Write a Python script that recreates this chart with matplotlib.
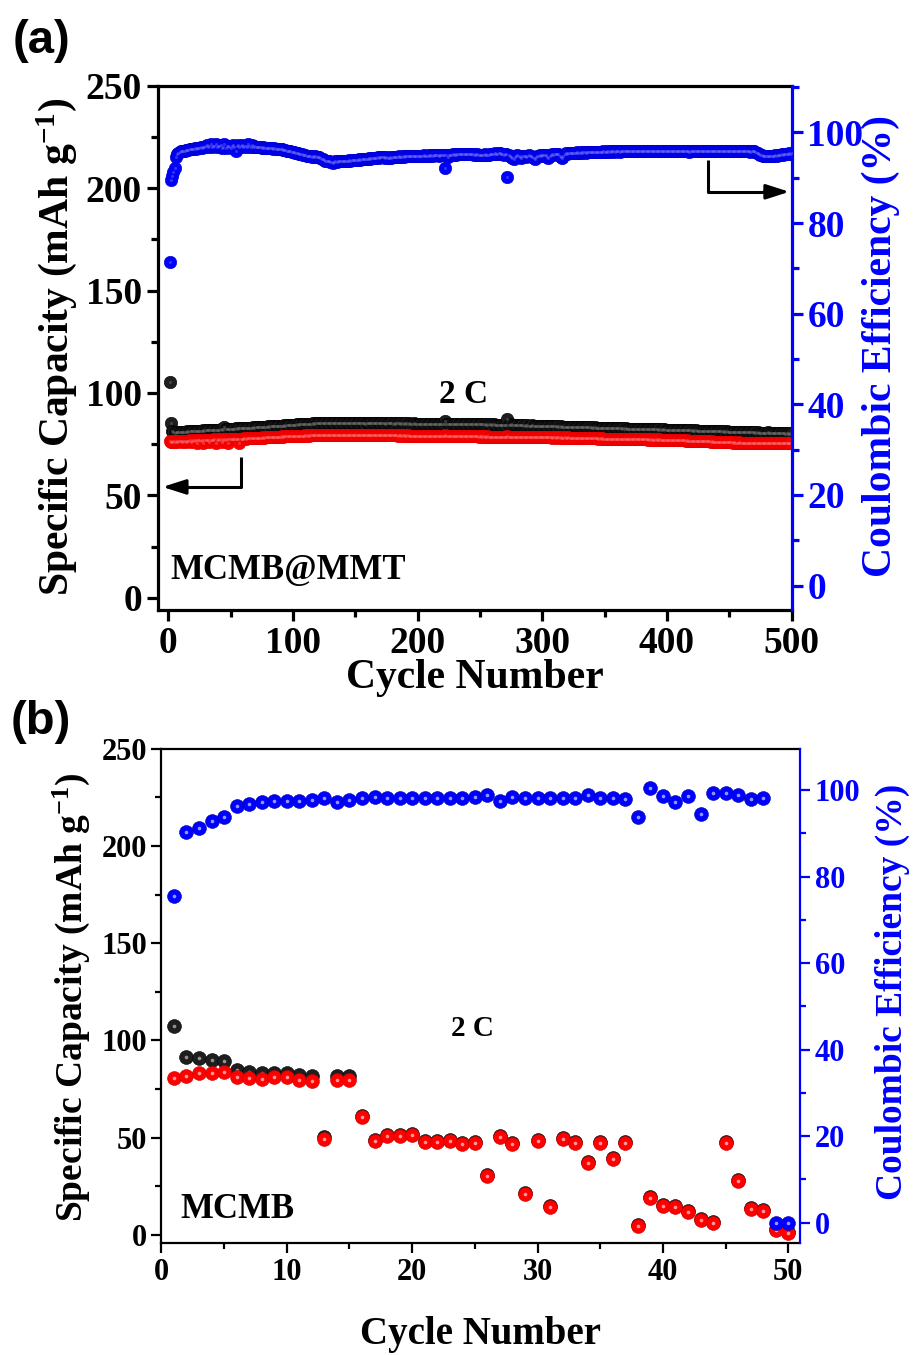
import matplotlib
matplotlib.use('Agg')
import matplotlib.pyplot as plt
from matplotlib.ticker import MultipleLocator

plt.rcParams['font.family'] = ['Liberation Serif', 'DejaVu Serif']
plt.rcParams['font.weight'] = 'bold'
plt.rcParams['mathtext.default'] = 'regular'

# ---------------- panel (a): MCMB@MMT, 500 cycles at 2 C ----------------
cycles_a = list(range(1, 501))

charge_a = [
    105.4, 85.3, 81.6, 80.9, 80.6, 80.7, 80.8, 80.9, 80.8, 81.0,
    80.9, 81.0, 81.1, 81.0, 81.2, 81.1, 81.2, 81.3, 81.2, 81.3,
    81.4, 81.3, 81.5, 81.4, 81.5, 81.6, 81.5, 81.7, 81.6, 81.7,
    81.8, 81.7, 81.8, 81.9, 81.8, 82.0, 81.9, 82.0, 82.1, 82.0,
    82.1, 82.2, 82.1, 82.3, 83.4, 82.3, 82.4, 82.3, 82.5, 82.4,
    82.5, 82.6, 82.5, 82.7, 82.6, 82.7, 82.8, 82.7, 82.8, 82.9,
    82.8, 82.9, 83.0, 82.9, 83.1, 83.0, 83.1, 83.2, 83.1, 83.3,
    83.2, 83.3, 83.4, 83.3, 83.5, 83.4, 83.5, 83.6, 83.5, 83.7,
    83.6, 83.7, 83.8, 83.7, 83.9, 83.8, 84.0, 83.9, 84.0, 84.1,
    84.0, 84.1, 84.2, 84.1, 84.3, 84.2, 84.3, 84.4, 84.3, 84.5,
    84.4, 84.5, 84.6, 84.5, 84.7, 84.6, 84.7, 84.8, 84.7, 84.9,
    84.8, 84.9, 85.0, 84.9, 85.0, 85.1, 85.0, 85.1, 85.2, 85.1,
    85.2, 85.1, 85.2, 85.3, 85.2, 85.3, 85.2, 85.4, 85.3, 85.2,
    85.3, 85.2, 85.3, 85.4, 85.3, 85.2, 85.3, 85.2, 85.3, 85.2,
    85.1, 85.2, 85.1, 85.2, 85.3, 85.2, 85.1, 85.2, 85.1, 85.2,
    85.1, 85.2, 85.3, 85.2, 85.1, 85.2, 85.1, 85.0, 85.1, 85.2,
    85.1, 85.2, 85.1, 85.2, 85.3, 85.2, 85.1, 85.2, 85.1, 85.2,
    85.1, 85.2, 85.1, 85.0, 85.1, 85.2, 85.1, 85.2, 85.1, 85.0,
    85.1, 85.0, 85.1, 85.2, 85.1, 85.0, 85.1, 85.0, 85.1, 85.0,
    85.1, 85.0, 85.1, 85.0, 84.9, 85.0, 85.1, 85.0, 84.9, 85.0,
    84.9, 85.0, 84.9, 85.0, 84.9, 84.8, 84.9, 85.0, 84.9, 84.8,
    84.9, 84.8, 84.9, 84.8, 84.9, 84.8, 84.9, 84.8, 84.9, 84.8,
    84.9, 86.4, 84.8, 84.9, 84.8, 84.9, 84.8, 84.9, 84.8, 84.7,
    84.8, 84.7, 84.8, 84.9, 84.8, 84.7, 84.8, 84.7, 84.8, 84.7,
    84.8, 84.7, 84.8, 84.7, 84.6, 84.7, 84.6, 84.7, 84.6, 84.7,
    84.6, 84.7, 84.6, 84.5, 84.6, 84.5, 84.6, 84.5, 84.6, 84.5,
    84.6, 84.5, 84.4, 84.5, 84.4, 84.5, 84.4, 84.5, 84.4, 84.5,
    84.4, 87.5, 84.4, 84.3, 85.0, 84.4, 84.3, 84.4, 84.3, 84.2,
    84.3, 84.2, 84.3, 84.2, 84.1, 84.2, 84.1, 84.2, 84.1, 84.0,
    84.1, 84.2, 84.0, 84.1, 84.0, 83.9, 84.0, 83.9, 84.0, 83.9,
    83.9, 83.8, 83.9, 83.8, 83.9, 83.8, 83.7, 83.8, 83.7, 83.8,
    83.7, 83.6, 83.7, 83.6, 83.7, 83.6, 83.5, 83.6, 83.5, 83.6,
    83.5, 83.6, 83.5, 83.4, 83.5, 83.4, 83.5, 83.4, 83.3, 83.4,
    83.3, 83.4, 83.3, 83.2, 83.3, 83.2, 83.3, 83.2, 83.1, 83.2,
    83.1, 83.2, 83.1, 83.0, 83.1, 83.0, 83.1, 83.0, 82.9, 83.0,
    82.9, 83.0, 82.9, 82.8, 82.9, 82.8, 82.9, 82.8, 82.7, 82.8,
    82.7, 82.8, 82.7, 82.6, 82.7, 82.6, 82.7, 82.6, 82.5, 82.6,
    82.5, 82.6, 82.5, 82.4, 82.5, 82.4, 82.5, 82.4, 82.3, 82.4,
    82.3, 82.4, 82.3, 82.4, 82.3, 82.2, 82.3, 82.2, 82.3, 82.2,
    82.3, 82.2, 82.1, 82.2, 82.1, 82.2, 82.1, 82.2, 82.1, 82.0,
    82.1, 82.0, 82.1, 82.0, 81.9, 82.0, 81.9, 82.0, 81.9, 81.8,
    81.9, 81.8, 81.9, 81.8, 81.7, 81.8, 81.7, 81.8, 81.7, 81.6,
    81.7, 81.6, 81.7, 81.6, 81.5, 81.6, 81.5, 81.6, 81.5, 81.4,
    81.5, 81.4, 81.5, 81.4, 81.3, 81.4, 81.3, 81.4, 81.3, 81.2,
    81.3, 81.2, 81.3, 81.2, 81.1, 81.2, 81.1, 81.2, 81.1, 81.0,
    81.1, 81.0, 81.1, 81.0, 80.9, 81.0, 80.9, 81.0, 80.9, 80.8,
    80.9, 80.8, 80.9, 80.8, 80.7, 80.8, 80.7, 80.8, 80.7, 80.6,
    80.7, 80.6, 80.7, 80.6, 80.5, 80.6, 80.5, 80.6, 80.5, 80.4,
    80.9, 80.6, 80.5, 80.4, 80.5, 80.4, 80.3, 80.4, 80.3, 80.2,
    80.3, 80.2, 80.3, 80.2, 80.1, 80.2, 80.1, 80.2, 80.1, 80.2,
]

discharge_a = [
    76.3, 76.0, 76.1, 76.3, 76.2, 76.4, 76.1, 76.5, 76.3, 76.6,
    76.2, 76.5, 76.6, 75.9, 76.7, 76.5, 76.8, 76.0, 76.7, 76.9,
    76.6, 77.0, 75.8, 76.8, 77.0, 76.7, 77.1, 75.7, 76.9, 77.1,
    76.8, 77.2, 76.0, 77.1, 77.2, 76.9, 77.3, 75.6, 77.0, 77.3,
    77.0, 77.4, 75.9, 77.2, 77.4, 77.1, 77.5, 75.7, 77.3, 77.5,
    77.3, 77.6, 77.4, 77.6, 77.5, 77.7, 75.8, 77.6, 77.7, 77.6,
    77.8, 77.7, 77.8, 77.9, 77.8, 77.9, 78.0, 77.9, 78.0, 78.1,
    78.0, 78.1, 78.2, 78.1, 78.2, 78.3, 78.2, 78.3, 78.4, 78.3,
    78.4, 78.5, 78.4, 78.5, 78.6, 78.5, 78.6, 78.7, 78.6, 78.7,
    78.8, 78.7, 78.8, 78.9, 78.8, 78.9, 79.0, 78.9, 79.0, 79.1,
    79.0, 79.1, 79.0, 79.1, 79.2, 79.1, 79.2, 79.1, 79.2, 79.3,
    79.2, 79.3, 79.2, 79.3, 79.4, 79.3, 79.4, 79.3, 79.4, 79.4,
    79.3, 79.4, 79.5, 79.4, 79.3, 79.4, 79.5, 79.4, 79.3, 79.4,
    79.5, 79.4, 79.3, 79.4, 79.5, 79.4, 79.4, 79.3, 79.4, 79.5,
    79.4, 79.3, 79.4, 79.5, 79.4, 79.3, 79.4, 79.5, 79.4, 79.4,
    79.3, 79.4, 79.5, 79.4, 79.3, 79.4, 79.4, 79.5, 79.4, 79.3,
    79.4, 79.5, 79.4, 79.3, 79.4, 79.4, 79.5, 79.4, 79.3, 79.4,
    79.4, 79.3, 79.4, 79.4, 79.3, 79.4, 79.3, 79.4, 79.3, 79.3,
    79.4, 79.3, 79.3, 79.2, 79.3, 79.3, 79.2, 79.3, 79.2, 79.3,
    79.2, 79.3, 79.2, 79.2, 79.1, 79.2, 79.2, 79.1, 79.2, 79.1,
    79.2, 79.1, 79.1, 79.2, 79.1, 79.0, 79.1, 79.1, 79.0, 79.1,
    79.0, 79.1, 79.0, 79.0, 79.1, 79.0, 78.9, 79.0, 79.0, 78.9,
    79.0, 79.6, 78.9, 79.0, 78.9, 79.0, 78.9, 78.9, 79.0, 78.9,
    78.9, 79.0, 78.9, 78.9, 78.8, 78.9, 78.9, 78.8, 78.9, 78.9,
    78.9, 78.8, 78.9, 78.8, 78.8, 78.9, 78.8, 78.8, 78.7, 78.8,
    78.8, 78.7, 78.8, 78.7, 78.7, 78.8, 78.7, 78.7, 78.6, 78.7,
    78.7, 78.6, 78.7, 78.6, 78.6, 78.7, 78.6, 78.6, 78.5, 78.6,
    78.6, 78.8, 78.6, 78.5, 78.5, 78.6, 78.5, 78.5, 78.6, 78.5,
    78.5, 78.4, 78.5, 78.5, 78.4, 78.5, 78.4, 78.4, 78.5, 78.4,
    78.4, 78.5, 78.4, 78.4, 78.3, 78.4, 78.4, 78.3, 78.4, 78.4,
    78.3, 78.4, 78.3, 78.3, 78.4, 78.3, 78.3, 78.2, 78.3, 78.3,
    78.2, 78.3, 78.3, 78.2, 78.3, 78.2, 78.2, 78.3, 78.2, 78.2,
    78.3, 78.2, 78.2, 78.1, 78.2, 78.2, 78.1, 78.2, 78.1, 78.1,
    78.0, 78.1, 78.0, 78.0, 77.9, 78.0, 77.9, 77.9, 77.8, 77.9,
    77.8, 77.9, 77.8, 77.8, 77.7, 77.8, 77.7, 77.8, 77.7, 77.7,
    77.6, 77.7, 77.6, 77.7, 77.6, 77.6, 77.5, 77.6, 77.5, 77.6,
    77.5, 77.6, 77.5, 77.5, 77.4, 77.5, 77.4, 77.5, 77.4, 77.4,
    77.4, 77.5, 77.4, 77.4, 77.3, 77.4, 77.3, 77.4, 77.3, 77.3,
    77.3, 77.4, 77.3, 77.3, 77.2, 77.3, 77.2, 77.3, 77.2, 77.2,
    77.3, 77.2, 77.2, 77.3, 77.2, 77.2, 77.1, 77.2, 77.1, 77.2,
    77.1, 77.1, 77.0, 77.1, 77.0, 77.0, 76.9, 77.0, 76.9, 76.9,
    76.8, 76.9, 76.8, 76.8, 76.7, 76.8, 76.7, 76.7, 76.6, 76.7,
    76.6, 76.6, 76.5, 76.6, 76.5, 76.5, 76.4, 76.5, 76.4, 76.4,
    76.3, 76.4, 76.3, 76.3, 76.2, 76.3, 76.2, 76.2, 76.1, 76.2,
    76.1, 76.1, 76.0, 76.1, 76.0, 76.0, 75.9, 76.0, 75.9, 75.9,
    75.9, 75.9, 75.8, 75.9, 75.8, 75.8, 75.8, 75.9, 75.8, 75.8,
    75.7, 75.8, 75.7, 75.7, 75.8, 75.7, 75.7, 75.6, 75.7, 75.7,
    75.6, 75.7, 75.6, 75.6, 75.7, 75.6, 75.6, 75.5, 75.6, 75.6,
    75.7, 75.6, 75.6, 75.5, 75.6, 75.6, 75.5, 75.6, 75.5, 75.6,
    75.6, 75.5, 75.6, 75.6, 75.5, 75.6, 75.5, 75.6, 75.6, 75.6,
]

ce_a = [
    71.5, 89.4, 90.3, 91.2, 92.1, 94.6, 95.2, 95.5, 95.7, 95.8,
    95.9, 96.0, 96.0, 96.1, 96.2, 96.1, 96.3, 96.3, 96.4, 96.4,
    96.5, 96.4, 96.6, 96.6, 96.5, 96.7, 96.6, 96.8, 96.7, 96.9,
    97.3, 96.8, 96.9, 97.4, 96.7, 96.9, 97.0, 97.5, 96.8, 97.0,
    96.9, 97.3, 96.6, 96.8, 97.4, 96.5, 96.9, 97.0, 96.8, 96.6,
    96.9, 97.3, 96.8, 96.0, 96.9, 97.2, 96.8, 96.9, 97.3, 96.8,
    96.9, 97.1, 96.7, 97.4, 96.9, 96.8, 97.2, 96.7, 96.9, 96.8,
    96.8, 96.7, 96.8, 96.7, 96.6, 96.7, 96.6, 96.6, 96.5, 96.6,
    96.5, 96.5, 96.5, 96.4, 96.5, 96.4, 96.4, 96.3, 96.4, 96.3,
    96.3, 96.2, 96.2, 96.1, 96.0, 95.9, 95.9, 95.8, 95.7, 95.6,
    95.6, 95.5, 95.4, 95.4, 95.3, 95.2, 95.2, 95.1, 95.0, 95.0,
    94.9, 94.8, 94.8, 94.7, 94.6, 94.7, 94.6, 94.7, 94.5, 94.6,
    94.5, 94.4, 94.2, 94.1, 93.9, 93.8, 93.8, 93.7, 93.6, 93.5,
    93.4, 93.3, 93.5, 93.6, 93.5, 93.6, 93.7, 93.6, 93.7, 93.8,
    93.7, 93.8, 93.8, 93.7, 93.9, 93.8, 93.9, 93.9, 94.0, 93.9,
    94.0, 94.0, 94.1, 94.0, 94.1, 94.1, 94.2, 94.1, 94.2, 94.2,
    94.3, 94.2, 94.3, 94.3, 94.4, 94.3, 94.4, 94.5, 94.4, 94.5,
    94.5, 94.6, 94.5, 94.4, 94.5, 94.3, 94.4, 94.5, 94.4, 94.5,
    94.5, 94.6, 94.5, 94.6, 94.7, 94.6, 94.6, 94.7, 94.6, 94.7,
    94.7, 94.8, 94.7, 94.8, 94.8, 94.7, 94.8, 94.8, 94.9, 94.8,
    94.9, 94.8, 94.9, 94.9, 95.0, 94.9, 94.8, 94.9, 95.0, 94.9,
    95.0, 94.9, 95.0, 95.0, 95.1, 95.0, 94.8, 95.0, 95.1, 95.0,
    95.1, 92.1, 95.0, 94.6, 95.1, 95.0, 95.1, 95.2, 95.1, 95.2,
    95.1, 95.2, 95.2, 95.3, 95.2, 95.3, 95.2, 95.3, 95.3, 95.2,
    95.3, 95.2, 95.3, 95.2, 95.1, 95.2, 95.1, 95.2, 95.1, 95.0,
    95.1, 95.0, 95.1, 95.2, 95.1, 95.0, 95.1, 95.2, 95.3, 95.2,
    95.3, 95.4, 95.2, 95.3, 95.4, 95.5, 95.3, 95.2, 95.1, 95.3,
    95.2, 90.1, 95.0, 94.7, 94.5, 94.3, 94.1, 94.6, 94.9, 95.0,
    94.8, 94.5, 94.3, 94.7, 94.9, 94.8, 94.6, 94.9, 95.0, 94.8,
    94.9, 94.6, 94.3, 94.2, 94.5, 94.8, 94.9, 95.0, 94.9, 95.0,
    95.0, 95.1, 95.0, 94.6, 94.4, 94.7, 95.1, 95.2, 95.1, 95.2,
    95.2, 95.3, 95.2, 94.9, 94.5, 94.4, 94.9, 95.3, 95.4, 95.3,
    95.4, 95.4, 95.5, 95.4, 95.5, 95.4, 95.5, 95.6, 95.5, 95.5,
    95.6, 95.5, 95.6, 95.6, 95.5, 95.6, 95.7, 95.6, 95.6, 95.7,
    95.6, 95.7, 95.6, 95.7, 95.7, 95.6, 95.7, 95.7, 95.8, 95.7,
    95.7, 95.8, 95.7, 95.8, 95.7, 95.8, 95.8, 95.7, 95.8, 95.8,
    95.8, 95.7, 95.8, 95.9, 95.8, 95.8, 95.9, 95.8, 95.8, 95.9,
    95.8, 95.9, 95.8, 95.9, 95.9, 95.8, 95.9, 95.8, 95.9, 95.9,
    95.9, 95.8, 95.9, 95.9, 95.8, 95.9, 95.9, 95.8, 95.9, 95.8,
    95.9, 95.8, 95.9, 95.9, 95.8, 95.8, 95.9, 95.8, 95.9, 95.8,
    95.8, 95.9, 95.8, 95.8, 95.9, 95.8, 95.8, 95.9, 95.8, 95.9,
    95.8, 95.8, 95.9, 95.8, 95.9, 95.8, 95.8, 95.7, 95.8, 95.8,
    95.9, 95.8, 95.8, 95.9, 95.8, 95.8, 95.9, 95.8, 95.9, 96.0,
    95.9, 95.9, 96.0, 95.9, 95.9, 95.8, 95.9, 95.9, 95.8, 95.9,
    95.9, 96.0, 95.9, 95.8, 95.9, 95.9, 96.0, 95.9, 95.8, 95.9,
    95.9, 95.8, 95.9, 96.0, 95.9, 95.8, 95.9, 95.9, 95.8, 95.9,
    96.0, 95.9, 95.9, 95.8, 95.9, 95.8, 95.7, 95.8, 95.9, 95.8,
    95.7, 95.5, 95.4, 95.2, 95.1, 95.0, 94.9, 94.9, 94.8, 94.8,
    94.9, 94.8, 94.8, 94.9, 94.8, 94.9, 95.0, 94.9, 95.0, 95.1,
    95.1, 95.2, 95.1, 95.2, 95.3, 95.2, 95.3, 95.4, 95.3, 95.4,
]

# ---------------- panel (b): MCMB, 50 cycles at 2 C ----------------
cycles_b = list(range(1, 51))

charge_b = [
    107.5, 91.3, 90.9, 90.0, 89.5, 84.9, 84.0, 83.2, 83.2, 83.2,
    82.3, 81.8, 50.2, 81.8, 81.8, 61.4, 49.0, 51.5, 51.6, 52.0,
    48.5, 48.5, 48.9, 47.3, 47.7, 31.0, 51.1, 47.3, 21.4, 49.0,
    15.1, 49.7, 48.0, 37.7, 48.0, 39.4, 47.7, 5.3, 19.7, 15.4,
    14.7, 12.5, 8.2, 6.8, 47.7, 28.3, 13.7, 13.0, 3.1, 1.4,
]

discharge_b = [
    80.6, 81.8, 83.2, 83.5, 84.0, 81.0, 80.6, 80.4, 81.0, 81.0,
    79.8, 79.2, 49.2, 79.8, 79.8, 60.9, 48.5, 51.0, 51.1, 51.5,
    48.0, 48.0, 48.4, 46.8, 47.2, 30.5, 50.6, 46.8, 20.9, 48.5,
    14.6, 49.2, 47.5, 37.2, 47.5, 38.9, 47.2, 4.8, 19.2, 14.9,
    14.2, 12.0, 7.7, 6.3, 47.2, 27.8, 13.2, 12.5, 2.6, 0.9,
]

ce_b = [
    75.5, 90.4, 91.3, 92.8, 93.8, 96.4, 96.9, 97.3, 97.5, 97.5,
    97.5, 97.7, 98.3, 97.3, 97.7, 98.3, 98.5, 98.2, 98.2, 98.2,
    98.2, 98.2, 98.2, 98.2, 98.5, 98.8, 97.5, 98.5, 98.2, 98.2,
    98.2, 98.2, 98.2, 98.8, 98.2, 98.3, 97.9, 93.7, 100.4, 98.7,
    97.3, 98.7, 94.6, 99.4, 99.4, 98.8, 97.9, 98.1, 0.0, 0.0,
]

BLUE = '#0000ff'
SERIF = ['Liberation Serif', 'DejaVu Serif']
SANS = ['Liberation Sans', 'DejaVu Sans']


def balls(ax, x, y, face, edge, shine, ms, shine_alpha=1.0, shine_frac=0.3):
    # sphere-like markers: solid body and a small light spot in the middle
    ax.plot(x, y, 'o', ls='none', ms=ms, mfc=face, mec=edge, mew=0.4, zorder=3)
    ax.plot(x, y, 'o', ls='none', ms=ms * shine_frac, mfc=shine, mew=0,
            alpha=shine_alpha, zorder=3)


def style_axes(ax, ax2, lw, tick_fs, major_len, minor_len):
    for side in ['left', 'top', 'bottom']:
        ax.spines[side].set_linewidth(lw)
        ax2.spines[side].set_visible(False)
    ax.spines['right'].set_visible(False)
    ax2.spines['right'].set_linewidth(lw)
    ax2.spines['right'].set_color(BLUE)
    ax.tick_params(axis='both', which='major', direction='out', length=major_len,
                   width=lw, labelsize=tick_fs, top=False, right=False)
    ax.tick_params(axis='both', which='minor', direction='out', length=minor_len,
                   width=lw, top=False, right=False)
    ax2.tick_params(axis='y', which='major', direction='out', length=major_len,
                    width=lw, labelsize=tick_fs, colors=BLUE)
    ax2.tick_params(axis='y', which='minor', direction='out', length=minor_len,
                    width=lw, colors=BLUE)
    for lab in ax.get_xticklabels() + ax.get_yticklabels() + ax2.get_yticklabels():
        lab.set_fontweight('bold')
        lab.set_family(SERIF)


fig = plt.figure(figsize=(9.16, 13.55), dpi=100)

# ----- panel (a)
ax_a = fig.add_axes([0.1722, 0.5498, 0.6919, 0.3869])
ax_a2 = ax_a.twinx()

balls(ax_a, cycles_a, charge_a, '#1e1e1e', '#000000', '#8a8a8a', 9.0, 0.35, 0.25)
balls(ax_a, cycles_a, discharge_a, '#ff0000', '#e00000', '#ff8a8a', 9.0, 0.35, 0.25)
balls(ax_a2, cycles_a, ce_a, BLUE, '#0000c8', '#8a8aff', 9.0, 0.35, 0.25)

ax_a.set_xlim(-8.5, 500)
ax_a.set_ylim(-6, 250)
ax_a2.set_ylim(-5.4, 110.3)
ax_a.xaxis.set_major_locator(MultipleLocator(100))
ax_a.xaxis.set_minor_locator(MultipleLocator(50))
ax_a.yaxis.set_major_locator(MultipleLocator(50))
ax_a.yaxis.set_minor_locator(MultipleLocator(25))
ax_a2.yaxis.set_major_locator(MultipleLocator(20))
ax_a2.yaxis.set_minor_locator(MultipleLocator(10))
style_axes(ax_a, ax_a2, 2.3, 27, 8, 5)

ax_a.text(236.5, 99.4, '2 C', fontsize=24, fontweight='bold', family=SERIF,
          ha='center', va='center')
ax_a.text(1.5, 13.4, 'MCMB@MMT', fontsize=25, fontweight='bold', family=SERIF,
          ha='left', va='center')

# arrows pointing at the axis each series belongs to
ax_a.plot([58.4, 58.4, 10], [68.8, 54.1, 54.1], color='black', lw=2.2,
          solid_capstyle='butt', zorder=4)
ax_a.annotate('', xy=(-4.6, 54.1), xytext=(12, 54.1),
              arrowprops=dict(arrowstyle='-|>,head_length=1.4,head_width=0.45',
                              color='black', lw=2.2, shrinkA=0, shrinkB=0))
ax_a2.plot([433.1, 433.1, 480], [93.9, 86.9, 86.9], color='black', lw=2.2,
           solid_capstyle='butt', zorder=4)
ax_a2.annotate('', xy=(498.2, 86.9), xytext=(478, 86.9),
               arrowprops=dict(arrowstyle='-|>,head_length=1.4,head_width=0.45',
                               color='black', lw=2.2, shrinkA=0, shrinkB=0))

# ----- panel (b)
ax_b = fig.add_axes([0.1762, 0.0824, 0.6975, 0.3651])
ax_b2 = ax_b.twinx()

balls(ax_b, cycles_b, charge_b, '#1e1e1e', '#000000', '#a0a0a0', 10, 0.9, 0.26)
balls(ax_b, cycles_b, discharge_b, '#ff0000', '#c80000', '#ffa8a8', 10, 0.9, 0.26)
balls(ax_b2, cycles_b, ce_b, BLUE, '#0000a8', '#a8a8ff', 10, 0.9, 0.26)

ax_b.set_xlim(0, 50.96)
ax_b.set_ylim(-4.3, 250)
ax_b2.set_ylim(-4.8, 109.6)
ax_b.xaxis.set_major_locator(MultipleLocator(10))
ax_b.xaxis.set_minor_locator(MultipleLocator(5))
ax_b.yaxis.set_major_locator(MultipleLocator(50))
ax_b.yaxis.set_minor_locator(MultipleLocator(25))
ax_b2.yaxis.set_major_locator(MultipleLocator(20))
ax_b2.yaxis.set_minor_locator(MultipleLocator(10))
style_axes(ax_b, ax_b2, 1.6, 22, 7, 4)

ax_b.text(24.8, 106, '2 C', fontsize=21, fontweight='bold', family=SERIF,
          ha='center', va='center')
ax_b.text(1.5, 12.9, 'MCMB', fontsize=25, fontweight='bold', family=SERIF,
          ha='left', va='center')

# ----- axis titles and panel letters
ylab = r'Specific Capacity (mAh g$^{-1}$)'
fig.text(0.0622, 0.744, ylab, rotation=90, fontsize=30, fontweight='bold',
         family=SERIF, ha='center', va='center')
fig.text(0.9618, 0.7446, 'Coulombic Efficiency (%)', rotation=90, fontsize=30,
         fontweight='bold', family=SERIF, color=BLUE, ha='center', va='center')
fig.text(0.518, 0.4996, 'Cycle Number', fontsize=30, fontweight='bold',
         family=SERIF, ha='center', va='center')

fig.text(0.0775, 0.264, ylab, rotation=90, fontsize=27, fontweight='bold',
         family=SERIF, ha='center', va='center')
fig.text(0.974, 0.268, 'Coulombic Efficiency (%)', rotation=90, fontsize=27,
         fontweight='bold', family=SERIF, color=BLUE, ha='center', va='center')
fig.text(0.525, 0.0148, 'Cycle Number', fontsize=28, fontweight='bold',
         family=SERIF, ha='center', va='center')

fig.text(0.045, 0.970, '(a)', fontsize=34, fontweight='bold', family=SANS,
         ha='center', va='center')
fig.text(0.045, 0.467, '(b)', fontsize=34, fontweight='bold', family=SANS,
         ha='center', va='center')

fig.savefig('out.png', dpi=100)
